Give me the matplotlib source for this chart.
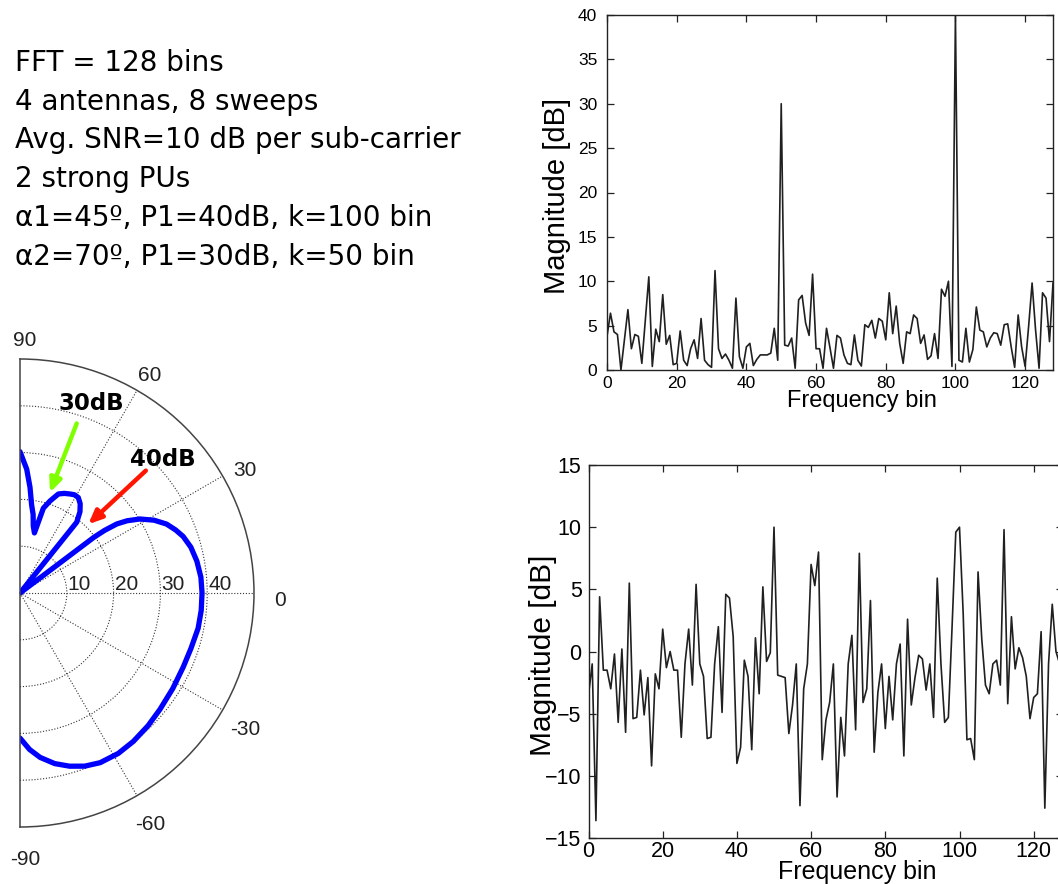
import numpy as np
import matplotlib
matplotlib.use("Agg")
import matplotlib.pyplot as plt
from matplotlib import transforms

SANS = ["Liberation Sans", "DejaVu Sans"]
WIDE = ["DejaVu Sans"]

# ---- scenario description ----
info_lines = [
    "FFT = 128 bins",
    "4 antennas, 8 sweeps",
    "Avg. SNR=10 dB per sub-carrier",
    "2 strong PUs",
    "\u03b11=45\u00ba, P1=40dB, k=100 bin",
    "\u03b12=70\u00ba, P1=30dB, k=50 bin",
]

# ---- beam pattern (angle in degrees, gain in dB) ----
beam_deg = [-90, -86.5, -83, -78.5, -74, -69.5, -64.7, -58.5, -52.6, -46,
            -39.8, -32, -24.4, -18, -11.2, -5.5, 0, 5, 10.2, 15, 19.1, 22,
            25.2, 28.5, 31.7, 34, 35.5, 36.5, 37.0, 37.5, 50.0, 51.3, 53.6,
            56, 58.6, 61, 63.2, 66, 68.8, 71.9, 74.6, 76.5, 78.8, 80.5,
            82.5, 84.6, 86.9, 90]
beam_db = [31.0, 33.5, 35.4, 37.2, 38.5, 39.5, 40.1, 40.2, 39.9, 39.4,
           38.9, 38.5, 38.3, 38.4, 38.8, 38.9, 38.9, 38.8, 38.4, 37.8, 36.9,
           35.9, 34.6, 32.6, 30.1, 27.6, 25.4, 22.5, 19.8, 0.0, 0.0, 19.4,
           21.6, 23.0, 23.9, 24.0, 23.7, 23.3, 22.7, 20.7, 18.8, 13.2, 14.6,
           17.0, 19.0, 22.7, 26.5, 30.2]
angle_ticks = [-90, -60, -30, 0, 30, 60, 90]
ring_ticks = [10, 20, 30, 40]

# ---- spectrum before nulling, one value per bin ----
spectrum_db = [
    3.8, 6.4, 4.3, 4.0, 0.0, 3.4, 6.8, 2.4, 4.0, 3.8,
    0.75, 5.6, 10.5, 0.4, 4.6, 3.2, 8.5, 2.9, 3.9, 0.6,
    0.75, 4.4, 1.1, 0.5, 2.4, 3.4, 1.3, 5.8, 1.1, 0.6,
    0.3, 11.2, 2.4, 1.3, 1.8, 1.1, 0.2, 8.1, 1.5, 0.2,
    2.6, 3.0, 0.5, 1.2, 1.7, 1.7, 1.7, 1.9, 4.7, 1.1,
    30.0, 2.8, 2.7, 3.6, 0.2, 7.9, 8.4, 5.3, 3.9, 10.8,
    2.4, 2.4, 0.2, 4.7, 2.5, 0.2, 3.9, 3.6, 1.7, 0.75,
    0.6, 3.95, 1.1, 0.45, 5.1, 4.8, 5.6, 3.6, 5.8, 5.5,
    3.4, 8.7, 4.1, 7.2, 3.0, 0.75, 4.3, 4.1, 6.2, 5.8,
    3.0, 3.95, 1.2, 1.6, 4.1, 1.3, 9.1, 8.3, 10.0, 0.4,
    40.0, 1.1, 0.9, 4.7, 0.9, 2.3, 7.1, 4.5, 4.3, 2.6,
    3.6, 4.2, 4.1, 2.8, 5.1, 5.2, 2.6, 0.3, 6.2, 2.6,
    0.4, 4.9, 9.8, 4.5, 0.2, 8.7, 8.1, 3.2, 9.8,
]

# ---- spectrum after nulling ----
residual_db = [
    -3.5, -1.0, -13.6, 4.4, -1.5, -1.5, -3.0, -0.2, -5.7, 0.2,
    -6.5, 5.5, -5.4, -5.3, -1.5, -5.1, -2.1, -9.2, -1.8, -3.0,
    1.8, -1.3, 0.0, -1.5, -1.5, -6.9, -1.0, 1.8, -2.7, 5.4,
    -1.0, -2.0, -7.0, -6.9, -1.0, 2.0, -4.9, 4.6, 4.3, 1.2,
    -9.0, -7.7, -0.7, -2.0, -7.9, 1.1, -3.4, 5.2, -0.8, -0.1,
    10.0, -1.9, -2.0, -2.1, -6.6, -4.3, -1.0, -12.4, -3.0, -1.0,
    7.0, 5.3, 8.0, -8.7, -5.5, -4.1, -1.0, -11.7, -5.3, -8.4,
    -1.0, 1.3, -6.3, 7.9, -4.1, -3.0, 4.1, -8.1, -3.3, -1.0,
    -6.2, -2.0, -5.5, -1.0, 0.6, -8.4, 2.6, -4.3, -2.1, -0.3,
    -0.6, -3.1, -1.0, -5.3, 5.9, -1.0, -5.7, -5.3, 2.0, 9.6,
    10.0, 3.0, -7.1, -7.0, -8.7, 6.4, 1.0, -2.7, -3.4, -1.0,
    -0.7, -2.7, 9.8, -4.2, 2.8, -1.4, 0.3, -0.5, -2.0, -5.4,
    -3.7, -3.4, 1.6, -12.6, -1.0, 3.8, 0.0, -1.0,
]

freq_ticks = [0, 20, 40, 60, 80, 100, 120]
top_yticks = [0, 5, 10, 15, 20, 25, 30, 35, 40]
bottom_yticks = [-15, -10, -5, 0, 5, 10, 15]

W, H = 1058, 884
fig = plt.figure(figsize=(W / 100, H / 100), dpi=100)


def px_box(left, top, right, bottom):
    return [left / W, 1 - bottom / H, (right - left) / W, (bottom - top) / H]


# ---- text block ----
for i, line in enumerate(info_lines):
    fig.text(15 / W, 1 - (71 + 38.7 * i) / H, line, family=WIDE,
             fontsize=20, va="baseline", ha="left", color="black")

# ---- polar beam pattern (half plane, centre at x=20 px, radius 234 px) ----
# the half wedge is centred inside a square box of side 2R
cx, cy, R = 20, 593, 234
axp = fig.add_axes(px_box(cx - R * 0.5, cy - R, cx + R * 1.5, cy + R),
                   projection="polar")
axp.set_thetamin(-90)
axp.set_thetamax(90)
axp.set_rlim(0, 50)
axp.set_rgrids(ring_ticks, labels=[])
axp.set_thetagrids([-60, -30, 0, 30, 60], labels=[])
axp.grid(True, color="#333333", linestyle=(0, (1, 1.6)), linewidth=0.8)
for name in ("polar", "start", "end"):
    axp.spines[name].set_color("#444444")
    axp.spines[name].set_linewidth(1.1)
axp.spines["inner"].set_visible(False)
axp.tick_params(length=0)

axp.plot(np.deg2rad(beam_deg), beam_db, color="#0000ff", lw=3.8,
         solid_joinstyle="round", solid_capstyle="round")

ring_tr = transforms.offset_copy(axp.transData, fig=fig, x=1, y=3, units="dots")
for r in ring_ticks:
    axp.text(0, r, str(r), transform=ring_tr, ha="left", va="baseline",
             family=SANS, fontsize=15, color="#222222")
for a in angle_ticks:
    dx = 5 if abs(a) == 90 else 0
    tr = transforms.offset_copy(axp.transData, fig=fig, x=dx, y=-7, units="dots")
    axp.text(np.deg2rad(a), 55.5, str(a), transform=tr, ha="center",
             va="center", family=SANS, fontsize=15, color="#222222")

axp.annotate("", xy=(np.deg2rad(73.4), 22.4), xytext=(np.deg2rad(71.5), 38.2),
             arrowprops=dict(arrowstyle="-|>,head_length=0.8,head_width=0.35",
                             color="#80ff00", lw=3.2, shrinkA=0, shrinkB=0))
axp.annotate("", xy=(np.deg2rad(45.2), 20.7), xytext=(np.deg2rad(44.2), 37.5),
             arrowprops=dict(arrowstyle="-|>,head_length=0.8,head_width=0.35",
                             color="#ff1500", lw=3.2, shrinkA=0, shrinkB=0))
axp.text(np.deg2rad(69.5), 43.3, "30dB", ha="center", va="center",
         family=WIDE, fontweight="bold", fontsize=16.5)
axp.text(np.deg2rad(43.1), 41.9, "40dB", ha="center", va="center",
         family=WIDE, fontweight="bold", fontsize=16.5)


def style_box(ax, labelsize, ypad, xpad):
    for s in ax.spines.values():
        s.set_color("#222222")
        s.set_linewidth(1.0)
    ax.tick_params(direction="in", top=True, right=True, length=5, width=0.9,
                   labelsize=labelsize, color="#222222")
    ax.tick_params(axis="y", pad=ypad)
    ax.tick_params(axis="x", pad=xpad)
    for lab in ax.get_xticklabels() + ax.get_yticklabels():
        lab.set_family(SANS)


# ---- top spectrum ----
ax1 = fig.add_axes(px_box(607, 15, 1053, 370))
ax1.plot(np.arange(len(spectrum_db)), spectrum_db, color="#202020", lw=1.2)
ax1.set_xlim(0, 128)
ax1.set_ylim(0, 40)
ax1.set_xticks(freq_ticks)
ax1.set_yticks(top_yticks)
style_box(ax1, 12.5, 7, 4.5)
ax1.set_xlabel("Frequency bin", family=SANS, fontsize=17)
ax1.xaxis.set_label_coords((862 - 607) / 446, (370 - 390) / 355)
ax1.set_ylabel("Magnitude [dB]", family=SANS, fontsize=21, va="center")
ax1.yaxis.set_label_coords((557 - 607) / 446, 0.49)

# ---- bottom spectrum ----
bx_left, bx_right = 588.5, 588.5 + 128 * 3.71
ax2 = fig.add_axes(px_box(bx_left, 465, bx_right, 838))
ax2.plot(np.arange(len(residual_db)), residual_db, color="#202020", lw=1.2)
ax2.set_xlim(0, 128)
ax2.set_ylim(-15, 15)
ax2.set_xticks(freq_ticks)
ax2.set_yticks(bottom_yticks)
style_box(ax2, 15.5, 5, 2)
ax2.set_xlabel("Frequency bin", family=SANS, fontsize=18)
ax2.xaxis.set_label_coords((857 - bx_left) / (bx_right - bx_left), (838 - 860) / 373)
ax2.set_ylabel("Magnitude [dB]", family=SANS, fontsize=21.5, va="center")
ax2.yaxis.set_label_coords((543 - bx_left) / (bx_right - bx_left), 0.49)

fig.savefig("out.png", dpi=100)
